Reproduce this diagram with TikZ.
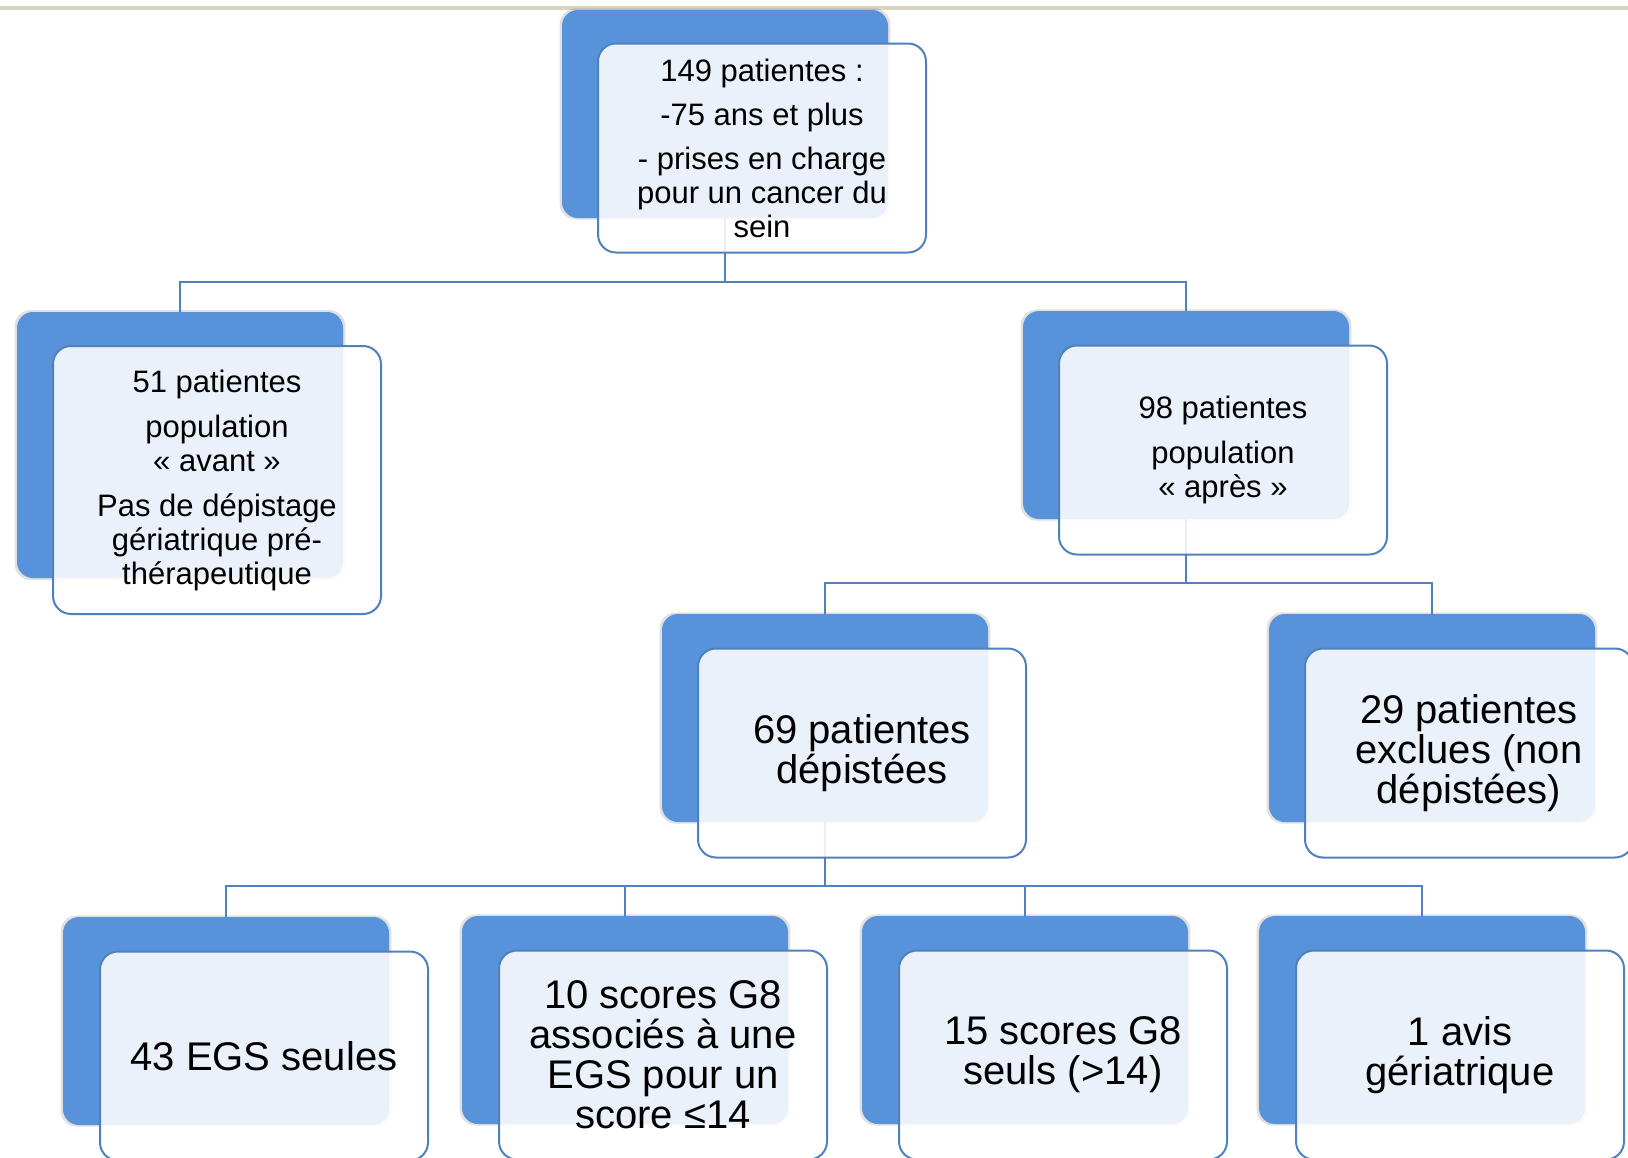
\documentclass[tikz,border=0pt]{standalone}
\usepackage{fontspec}
\setmainfont{Liberation Sans}
\usetikzlibrary{shadows}
\definecolor{bluebox}{RGB}{88,146,218}
\definecolor{bordblue}{RGB}{79,129,189}
\definecolor{beigeline}{RGB}{218,212,190}

\tikzset{
  back/.style={fill=bluebox, rounded corners=8pt, minimum width=163pt, minimum height=104pt, inner sep=0pt,
    general shadow={fill=black, opacity=.12, shadow scale=1.015}},
  front/.style={draw=bordblue, line width=1pt, fill=white, fill opacity=.875, text opacity=1,
    rounded corners=9pt, minimum width=164pt, minimum height=104.5pt, inner sep=2pt, align=center},
  small/.style={font=\fontsize{15.5}{17}\selectfont},
  big/.style={font=\fontsize{20}{20}\selectfont},
  conn/.style={draw=bordblue, line width=1.25pt}
}

\begin{document}
\begin{tikzpicture}[x=0.5pt,y=-0.5pt]
\useasboundingbox (0,0) rectangle (1628,1157);
\draw[beigeline, line width=1.6pt] (0,8) -- (1628,8);

% blue boxes
\node[back] (tot) at (725,114) {};
\node[back, minimum height=133pt] (avant) at (180,445) {};
\node[back] (apres) at (1186,415) {};
\node[back] (dep) at (825,718) {};
\node[back] (excl) at (1432,718) {};
\node[back] (egs) at (226,1021) {};
\node[back] (gha) at (625,1020) {};
\node[back] (ghb) at (1025,1020) {};
\node[back] (avis) at (1422,1020) {};

\coordinate (h1) at (0,282);
\coordinate (h2) at (0,583);
\coordinate (h3) at (0,886);

\draw[conn] (tot.south) -- (tot.south |- h1) -| (avant.north);
\draw[conn] (tot.south |- h1) -| (apres.north);
\draw[conn] (apres.south) -- (apres.south |- h2) -| (dep.north);
\draw[conn] (apres.south |- h2) -| (excl.north);
\draw[conn] (dep.south) -- (dep.south |- h3) -| (egs.north);
\draw[conn] (dep.south |- h3) -| (avis.north);
\foreach \n in {gha,ghb}
  \draw[conn] (\n.north) -- (\n.north |- h3);

% white boxes
\node[front, small] (totf) at ([shift={(18.5pt,-17pt)}]tot.center)
  {149 patientes :\\[5pt]-75 ans et plus\\[5pt]- prises en charge\\pour un cancer du\\sein};
\node[front, small, minimum height=134pt] (avantf) at ([shift={(18.5pt,-17.5pt)}]avant.center)
  {51 patientes\\[5.5pt]population\\« avant »\\[5.5pt]Pas de dépistage\\gériatrique pré-\\thérapeutique};
\node[front, small] (apresf) at ([shift={(18.5pt,-17.5pt)}]apres.center)
  {98 patientes\\[5.5pt]population\\« après »};
\node[front, big] (depf) at ([shift={(18.5pt,-17.5pt)}]dep.center) {69 patientes\\dépistées};
\node[front, big] (exclf) at ([shift={(18.5pt,-17.5pt)}]excl.center) {29 patientes\\exclues (non\\dépistées)};
\node[front, big] (egsf) at ([shift={(19pt,-17.5pt)}]egs.center) {43 EGS seules};
\node[front, big] (ghaf) at ([shift={(19pt,-17.5pt)}]gha.center) {10 scores G8\\associés à une\\EGS pour un\\score ≤14};
\node[front, big] (ghbf) at ([shift={(19pt,-17.5pt)}]ghb.center) {15 scores G8\\seuls (>14)};
\node[front, big] (avisf) at ([shift={(19pt,-17.5pt)}]avis.center) {1 avis\\gériatrique};

\end{tikzpicture}
\end{document}
